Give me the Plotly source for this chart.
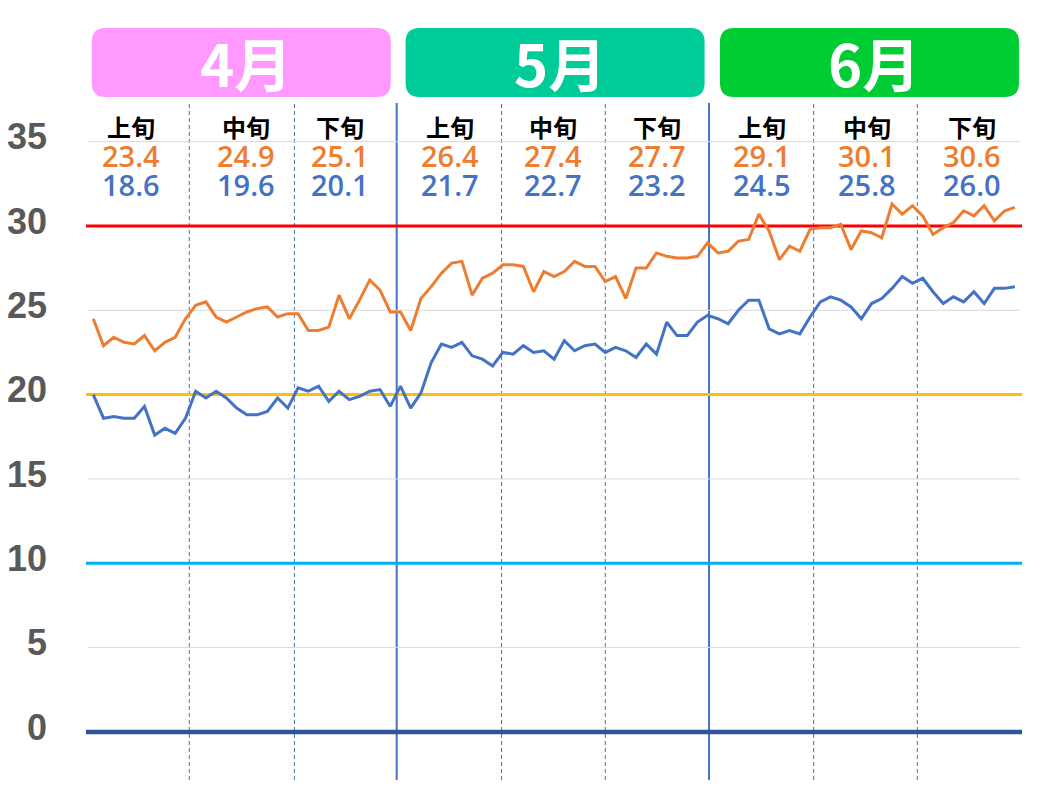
import plotly.graph_objects as go

# ---------------- data ----------------
days = list(range(91))  # 4/1 .. 6/30
max_temp = [24.5, 22.9, 23.4, 23.1, 23.0, 23.5, 22.6, 23.1, 23.4, 24.5,
            25.3, 25.5, 24.6, 24.3, 24.6, 24.9, 25.1, 25.2, 24.6, 24.8,
            24.8, 23.8, 23.8, 24.0, 25.9, 24.5, 25.6, 26.8, 26.2, 24.9,
            24.9, 23.8, 25.7, 26.4, 27.2, 27.8, 27.9, 25.9, 26.9, 27.2,
            27.7, 27.7, 27.6, 26.1, 27.3, 27.0, 27.3, 27.9, 27.6, 27.6,
            26.7, 27.0, 25.7, 27.5, 27.5, 28.4, 28.2, 28.1, 28.1, 28.2, 29.0,
            28.4, 28.5, 29.1, 29.2, 30.7, 29.7, 28.0, 28.8, 28.5, 29.8,
            29.9, 29.9, 30.1, 28.6, 29.7, 29.6, 29.3, 31.3, 30.7, 31.2,
            30.6, 29.5, 29.9, 30.2, 30.9, 30.6, 31.2, 30.3, 30.9, 31.1]
min_temp = [20.0, 18.6, 18.7, 18.6, 18.6, 19.3, 17.6, 18.0, 17.7, 18.6,
            20.2, 19.8, 20.2, 19.8, 19.2, 18.8, 18.8, 19.0, 19.8, 19.2,
            20.4, 20.2, 20.5, 19.6, 20.2, 19.7, 19.9, 20.2, 20.3, 19.3,
            20.5, 19.2, 20.1, 21.9, 23.0, 22.8, 23.1, 22.3, 22.1, 21.7,
            22.5, 22.4, 22.9, 22.5, 22.6, 22.1, 23.2, 22.6, 22.9, 23.0,
            22.5, 22.8, 22.6, 22.2, 23.0, 22.4, 24.3, 23.5, 23.5, 24.3, 24.7,
            24.5, 24.2, 25.0, 25.6, 25.6, 23.9, 23.6, 23.8, 23.6, 24.6,
            25.5, 25.8, 25.6, 25.2, 24.5, 25.4, 25.7, 26.3, 27.0, 26.6,
            26.9, 26.1, 25.4, 25.8, 25.5, 26.1, 25.4, 26.3, 26.3, 26.4]

months = ["4月", "5月", "6月"]
dekad_names = ["上旬", "中旬", "下旬"] * 3
dekad_max_avg = [23.4, 24.9, 25.1, 26.4, 27.4, 27.7, 29.1, 30.1, 30.6]
dekad_min_avg = [18.6, 19.6, 20.1, 21.7, 22.7, 23.2, 24.5, 25.8, 26.0]
y_ticks = [0, 5, 10, 15, 20, 25, 30, 35]

# ---------------- layout constants ----------------
XMIN, XMAX = -0.71, 91.28
YMIN, YMAX = -2.85, 37.29
ML, MR, MT, MB = 78, 32, 95, 20      # page has an 8px body margin
FW, FH = 1052, 792
ORANGE = "#ED7D31"
BLUE = "#4472C4"
month_colors = ["#FF99FF", "#00CC99", "#00CC33"]
month_spans = [(-0.15, 29.05), (30.5, 59.7), (61.2, 90.4)]
dekad_label_x = [3.68, 14.91, 24.09, 34.83, 44.9, 55.05, 65.3, 75.55, 85.81]
dashed_x = [9.375, 19.64, 39.87, 50.0, 70.35, 80.47]
solid_x = [29.63, 60.13]
ref_lines = [(30, "#FF0000", 3), (20, "#FFC000", 3), (10, "#00B0F0", 3), (0, "#2F5597", 4.5)]
grid_vals = [5, 15, 25, 35]

PW, PH = FW - ML - MR, FH - MT - MB


def xp(x):
    return (x - XMIN) / (XMAX - XMIN)


def yp(screen_y):
    # screen pixel (in 1060x800 window) -> paper y
    return (FH - MB + 8 - screen_y) / PH


fig = go.Figure()
fig.add_trace(go.Scatter(x=days, y=max_temp, mode="lines",
                         line=dict(color=ORANGE, width=3), hoverinfo="skip"))
fig.add_trace(go.Scatter(x=days, y=min_temp, mode="lines",
                         line=dict(color=BLUE, width=3), hoverinfo="skip"))

shapes = []
for g in grid_vals:
    shapes.append(dict(type="line", xref="x", yref="y", x0=-0.5, x1=90.5, y0=g, y1=g,
                       line=dict(color="#D9D9D9", width=1), layer="below"))
for v, c, w in ref_lines:
    shapes.append(dict(type="line", xref="x", yref="y", x0=XMIN, x1=90.7, y0=v, y1=v,
                       line=dict(color=c, width=w), layer="below"))
for x in dashed_x:
    shapes.append(dict(type="line", xref="x", yref="paper", x0=x, x1=x, y0=0, y1=1,
                       line=dict(color=BLUE, width=1, dash="4px,3px"), layer="below"))
for x in solid_x:
    shapes.append(dict(type="line", xref="x", yref="paper", x0=x, x1=x, y0=0, y1=1,
                       line=dict(color=BLUE, width=2), layer="below"))

# month header boxes (rounded)
by0, by1 = yp(97), yp(28)
rx, ry = 14 / PW, 14 / PH
annotations = []
for (a, b), col, name in zip(month_spans, month_colors, months):
    x0, x1 = xp(a), xp(b)
    path = (f"M {x0+rx},{by0} L {x1-rx},{by0} Q {x1},{by0} {x1},{by0+ry} "
            f"L {x1},{by1-ry} Q {x1},{by1} {x1-rx},{by1} L {x0+rx},{by1} "
            f"Q {x0},{by1} {x0},{by1-ry} L {x0},{by0+ry} Q {x0},{by0} {x0+rx},{by0} Z")
    shapes.append(dict(type="path", xref="paper", yref="paper", path=path,
                       fillcolor=col, line=dict(width=0), layer="above"))
    annotations.append(dict(x=(x0 + x1) / 2 + 5 / PW, y=yp(62), xref="paper", yref="paper",
                            text=f"<b>{name}</b>", showarrow=False,
                            font=dict(family="Noto Sans CJK JP", size=58, color="white"),
                            xanchor="center", yanchor="middle"))

for x, nm, mx, mn in zip(dekad_label_x, dekad_names, dekad_max_avg, dekad_min_avg):
    annotations.append(dict(x=x, y=35.92, xref="x", yref="y", text=f"<b>{nm}</b>",
                            showarrow=False, xanchor="center", yanchor="middle",
                            font=dict(family="Noto Sans CJK JP", size=24, color="black")))
    annotations.append(dict(x=x, y=34.2, xref="x", yref="y", text=f"{mx:.1f}",
                            showarrow=False, xanchor="center", yanchor="middle",
                            font=dict(family="Open Sans", size=29, color=ORANGE, weight=600)))
    annotations.append(dict(x=x, y=32.45, xref="x", yref="y", text=f"{mn:.1f}",
                            showarrow=False, xanchor="center", yanchor="middle",
                            font=dict(family="Open Sans", size=29, color=BLUE, weight=600)))

fig.update_layout(
    width=FW, height=FH,
    margin=dict(l=ML, r=MR, t=MT, b=MB, pad=0, autoexpand=False),
    paper_bgcolor="white", plot_bgcolor="white",
    showlegend=False,
    shapes=shapes, annotations=annotations,
    xaxis=dict(range=[XMIN, XMAX], showgrid=False, zeroline=False, automargin=False,
               showticklabels=False, showline=False, ticks=""),
    yaxis=dict(range=[YMIN, YMAX], tickvals=y_ticks, showgrid=False, zeroline=False,
               automargin=False, showline=False, ticks="", ticklabelstandoff=38,
               ticklabelshift=-5,
               tickfont=dict(family="Liberation Sans", size=36, color="#595959", weight="bold")),
)

fig.write_html("out.html")
